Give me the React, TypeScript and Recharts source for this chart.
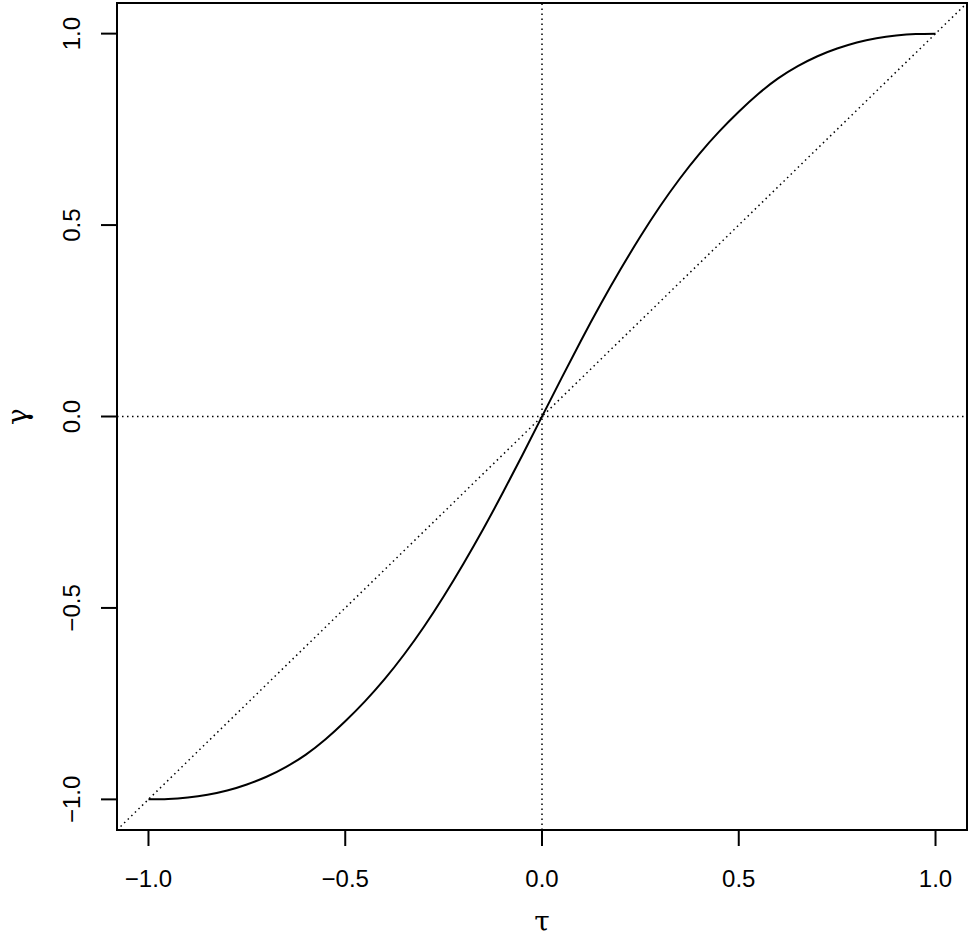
import { Label, Line, LineChart, ReferenceArea, ReferenceLine, XAxis, YAxis } from "recharts";

// tau (x) and gamma (y)
const tauValues = [
  -1, -0.95, -0.9, -0.85, -0.8, -0.75, -0.7, -0.65, -0.6, -0.55, -0.5, -0.45, -0.4, -0.35, -0.3, -0.25, -0.2,
  -0.15, -0.1, -0.05, 0, 0.05, 0.1, 0.15, 0.2, 0.25, 0.3, 0.35, 0.4, 0.45, 0.5, 0.55, 0.6, 0.65, 0.7, 0.75, 0.8,
  0.85, 0.9, 0.95, 1,
];
const gammaValues = [
  -1, -0.999, -0.995, -0.988, -0.977, -0.961, -0.941, -0.915, -0.883, -0.843, -0.796, -0.744, -0.686, -0.621,
  -0.549, -0.47, -0.385, -0.295, -0.2, -0.101, 0, 0.101, 0.2, 0.295, 0.385, 0.47, 0.549, 0.621, 0.686, 0.744,
  0.796, 0.843, 0.883, 0.915, 0.941, 0.961, 0.977, 0.988, 0.995, 0.999, 1,
];
const axisTicks = [-1, -0.5, 0, 0.5, 1];
const axisRange: [number, number] = [-1.08, 1.08];

const data = tauValues.map((tau, i) => ({ tau, gamma: gammaValues[i] }));

const font = '"Liberation Sans", Arial, Helvetica, sans-serif';
const greek = '"DejaVu Serif", "Liberation Serif", serif';

const fmt = (v: number) => (v < 0 ? "\u2212" : "") + Math.abs(v).toFixed(1);

function XTick({ x, y, payload }: any) {
  return (
    <text x={x} y={y + 17} textAnchor="middle" fontFamily={font} fontSize={24} fill="#000">
      {fmt(payload.value)}
    </text>
  );
}

function YTick({ x, y, payload }: any) {
  return (
    <text x={x} y={y} transform={`rotate(-90, ${x}, ${y})`} textAnchor="middle" fontFamily={font} fontSize={24} fill="#000">
      {fmt(payload.value)}
    </text>
  );
}

const dotted = { stroke: "#000", strokeWidth: 1.5, strokeDasharray: "1.5 3.5" };

export default function App() {
  return (
    <div style={{ position: "absolute", left: 0, top: 0, width: 969, height: 941, background: "#fff" }}>
      <LineChart width={969} height={941} data={data} margin={{ top: 3, right: 2, left: 0, bottom: 51 }}>
        <XAxis
          type="number"
          dataKey="tau"
          domain={axisRange}
          ticks={axisTicks}
          allowDataOverflow
          axisLine={false}
          tickLine={{ stroke: "#000", strokeWidth: 2 }}
          tickSize={16}
          tickMargin={24}
          tick={<XTick />}
          height={60}
        >
          <Label
            content={({ viewBox }: any) => (
              <text x={viewBox.x + viewBox.width / 2} y={931} textAnchor="middle" fontFamily={greek} fontSize={28} fill="#000">
                τ
              </text>
            )}
          />
        </XAxis>
        <YAxis
          type="number"
          domain={axisRange}
          ticks={axisTicks}
          allowDataOverflow
          axisLine={false}
          tickLine={{ stroke: "#000", strokeWidth: 2 }}
          tickSize={16}
          tickMargin={21}
          tick={<YTick />}
          width={117}
        >
          <Label
            content={({ viewBox }: any) => {
              const cy = viewBox.y + viewBox.height / 2;
              return (
                <text x={27} y={cy} transform={`rotate(-90, 27, ${cy})`} textAnchor="middle" fontFamily={greek} fontSize={28} fill="#000">
                  γ
                </text>
              );
            }}
          />
        </YAxis>
        <ReferenceLine x={0} {...dotted} />
        <ReferenceLine y={0} {...dotted} />
        <ReferenceLine
          segment={[
            { x: axisRange[0], y: axisRange[0] },
            { x: axisRange[1], y: axisRange[1] },
          ]}
          {...dotted}
        />
        <Line type="natural" dataKey="gamma" stroke="#000" strokeWidth={2} dot={false} isAnimationActive={false} />
        <ReferenceArea x1={axisRange[0]} x2={axisRange[1]} y1={axisRange[0]} y2={axisRange[1]} fill="none" stroke="#000" strokeWidth={2} />
      </LineChart>
    </div>
  );
}
